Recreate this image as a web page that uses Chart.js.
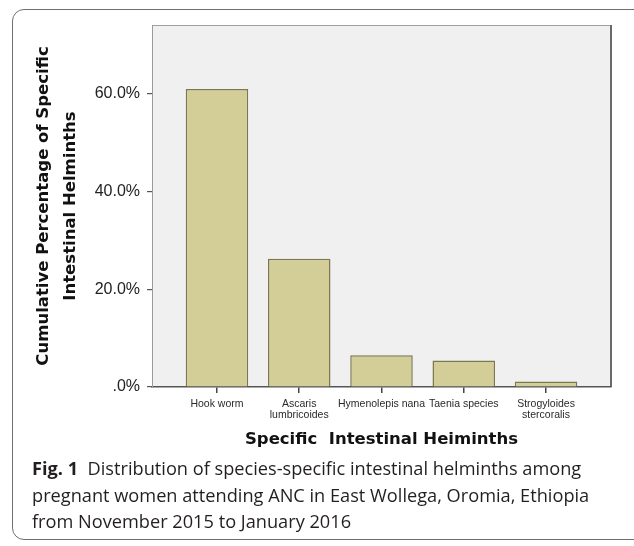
<!DOCTYPE html>
<html>
<head>
<meta charset="utf-8">
<script src="https://cdn.jsdelivr.net/npm/chart.js@4.4.1/dist/chart.umd.min.js"></script>
<style>
  html, body { margin: 0; padding: 0; background: #fff; }
  body { width: 634px; height: 546px; position: relative; overflow: hidden; }
  #frame {
    position: absolute; left: 12px; top: 9px; width: 640px; height: 531px;
    border: 1px solid #6f6f6f; border-radius: 12px; box-sizing: border-box;
  }
  #chart-box { position: absolute; left: 0; top: 0; width: 634px; height: 460px; }
  #caption {
    position: absolute; left: 32px; top: 455px; width: 600px;
    font-family: "Open Sans", sans-serif; font-size: 18.2px; line-height: 26.5px;
    color: #231f20; white-space: nowrap;
  }
  #caption b { font-weight: 700; }
</style>
</head>
<body>
<div id="frame"></div>
<div id="chart-box"><canvas id="helminth-chart" width="634" height="460"></canvas></div>
<div id="caption">
  <b>Fig. 1</b>&nbsp; Distribution of species-specific intestinal helminths among<br>
  pregnant women attending ANC in East Wollega, Oromia, Ethiopia<br>
  from November 2015 to January 2016
</div>

<script>
// values (percent)
const categories = ["Hook worm", "Ascaris lumbricoides", "Hymenolepis nana", "Taenia species", "Strogyloides stercoralis"];
const tickLabels = [["Hook worm"], ["Ascaris", "lumbricoides"], ["Hymenolepis nana"], ["Taenia species"], ["Strogyloides", "stercoralis"]];
const percentages = [60.9, 26.2, 6.5, 5.4, 1.1];
const yTickValues = [0, 20, 40, 60];
const yTickLabels = [".0%", "20.0%", "40.0%", "60.0%"];

const canvas = document.getElementById("helminth-chart");

// grey plot background + frame like the SPSS output
const plotFrame = {
  id: "plotFrame",
  beforeDraw(chart) {
    const a = chart.chartArea;
    const c = chart.ctx;
    c.save();
    c.fillStyle = "#f0f0f0";
    c.fillRect(a.left, a.top, a.right - a.left, a.bottom - a.top);
    c.strokeStyle = "#a0a0a0";
    c.lineWidth = 1;
    c.beginPath();
    c.moveTo(a.left, a.top + 0.5);
    c.lineTo(a.right, a.top + 0.5);
    c.stroke();
    c.strokeStyle = "#6a6a6a";
    c.lineWidth = 2;
    c.beginPath();
    c.moveTo(a.right, a.top);
    c.lineTo(a.right, a.bottom);
    c.stroke();
    c.restore();
  }
};

let data = {
  datasets: [
    {
      label: "Cumulative Percentage",
      data: percentages.map((v, i) => ({ x: i, y: v })),
      backgroundColor: "#d3ce97",
      borderColor: "#7b7850",
      borderWidth: 1.5,
      barPercentage: 0.76,
      categoryPercentage: 1.0,
    }
  ]
};

let config = {
  type: "bar",
  data: data,
  plugins: [plotFrame],
  options: {
    responsive: false,
    animation: false,
    layout: { padding: { left: 0, top: 25, right: 23, bottom: 0 } },
    plugins: {
      legend: { display: false },
      tooltip: { enabled: false },
    },
    scales: {
      x: {
        type: "linear",
        offset: false,
        min: -0.79,
        max: categories.length - 1 + 0.79,
        afterBuildTicks: (axis) => { axis.ticks = categories.map((c, i) => ({ value: i })); },
        afterFit: (axis) => { axis.height = 73; },
        grid: { display: true, offset: false, drawOnChartArea: false, drawTicks: true, tickLength: 6, color: "#444", lineWidth: 1.5 },
        border: { display: true, color: "#555", width: 1.5 },
        ticks: {
          autoSkip: false,
          maxRotation: 0,
          padding: 6,
          color: "#2a2a2a",
          font: { family: "Liberation Sans", size: 10.5, lineHeight: 1.0 },
          callback: (v) => tickLabels[v],
        },
        title: {
          display: true,
          text: "Specific  Intestinal Heiminths",
          color: "#111",
          font: { family: "DejaVu Sans", weight: "bold", size: 16.5, lineHeight: 1.2 },
          padding: { top: 0, bottom: 10 },
        },
      },
      y: {
        min: 0,
        max: 74,
        afterBuildTicks: (axis) => { axis.ticks = yTickValues.map((v) => ({ value: v })); },
        afterFit: (axis) => { axis.width = 152; },
        grid: { display: true, drawOnChartArea: false, drawTicks: true, tickLength: 5, color: "#555", lineWidth: 1.2 },
        border: { display: true, color: "#9a9a9a", width: 1 },
        ticks: {
          padding: 7,
          color: "#222",
          font: { family: "Liberation Sans", size: 16 },
          callback: (v) => yTickLabels[yTickValues.indexOf(v)],
        },
        title: {
          display: true,
          text: ["Cumulative Percentage of Specific", "Intestinal Helminths"],
          color: "#111",
          font: { family: "DejaVu Sans", weight: "bold", size: 16.5, lineHeight: 1.6 },
          padding: { top: 31, bottom: 0 },
        },
      },
    },
  },
};

new Chart(canvas, config);
</script>
</body>
</html>
